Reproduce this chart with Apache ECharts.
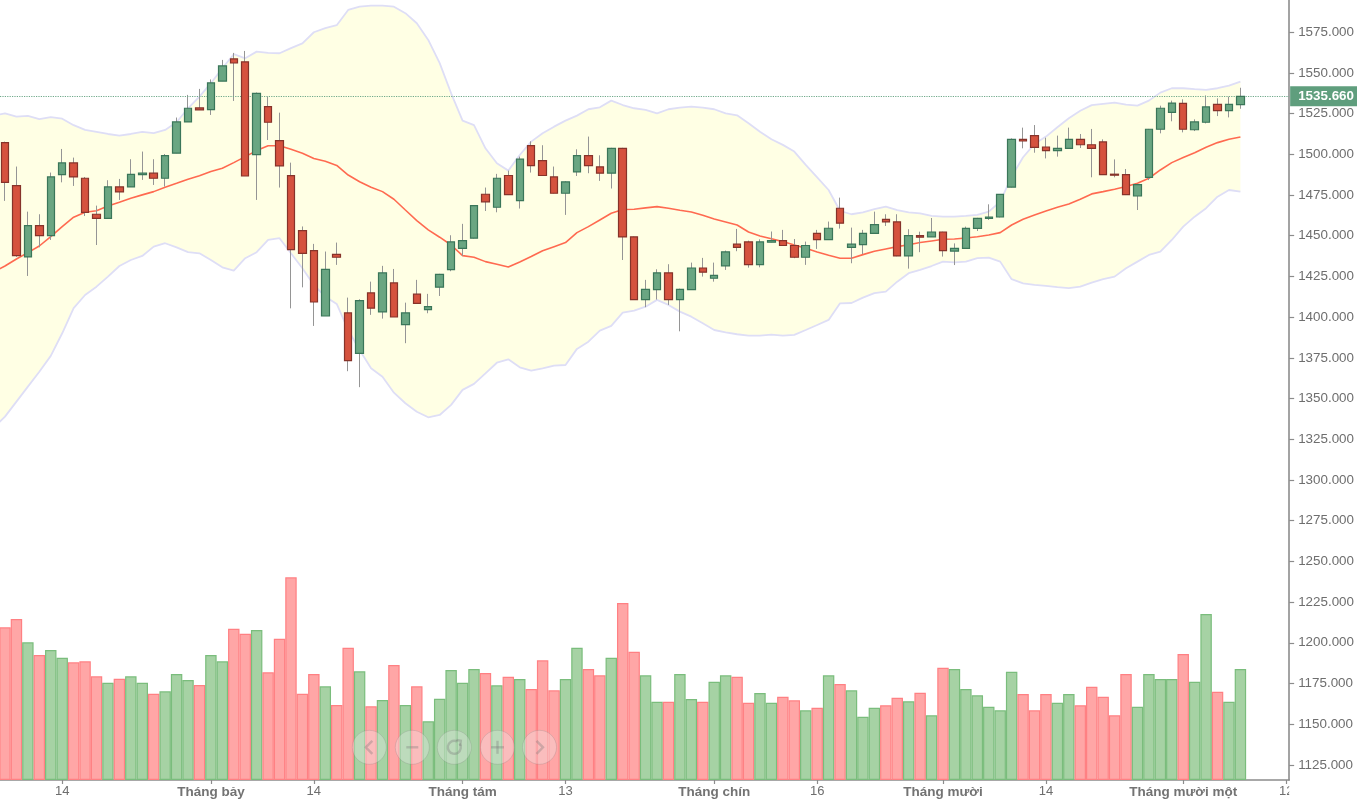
<!DOCTYPE html>
<html>
<head>
<meta charset="utf-8">
<title>Chart</title>
<script src="https://cdn.jsdelivr.net/npm/echarts@6/dist/echarts.min.js"></script>
<style>
html,body{margin:0;padding:0;background:#fff;overflow:hidden}
#chart{width:1357px;height:803px}
</style>
</head>
<body>
<div id="chart"></div>
<script>
// one entry per session, the first session sits just off the left edge
var opens = [1490,
1507.2,1480.8,1437,1456.2,1450.1,1487.5,1494.7,1485.3,1463.2,1460.7,
1480,1480,1487.5,1488.4,1485.3,1500.7,1519.9,1528.5,1527.5,1545,
1558.6,1556.8,1499.8,1529.3,1508.4,1486.9,1453.2,1440.9,1400.7,1438.6,
1402.6,1377.8,1414.9,1403.2,1421,1395.4,1414.1,1404.6,1418.4,1429.2,
1442.3,1448.5,1475.5,1467.5,1487,1471.6,1505.4,1496.2,1486.1,1476.1,
1489.2,1499.2,1492.3,1488.4,1503.7,1449.3,1410.8,1416.9,1427.2,1410.8,
1416.9,1430.2,1423.9,1431.5,1444.8,1446.2,1432.3,1446,1447,1444,
1436.8,1451.5,1447.6,1466.9,1442.9,1444.6,1451.5,1460.1,1458.5,1437.6,
1450.1,1449.3,1452.3,1440.6,1442.3,1454.5,1460.7,1461.5,1479.9,1509.2,
1511.5,1504.5,1502.3,1503.7,1509.2,1505.9,1507.6,1487.8,1487.5,1474.4,
1485.9,1515.4,1525.8,1531.3,1515.1,1519.7,1530.7,1526.8,1530.5];
var closes = [1507,
1482.8,1437.8,1456.2,1450.1,1486.1,1494.7,1486.1,1464.4,1460.7,1480,
1476.9,1487.7,1488.4,1485.3,1499.2,1519.9,1528.3,1527.3,1543.9,1554.3,
1556.1,1486.7,1537.5,1519.7,1492.9,1441.5,1439.2,1409.3,1429.4,1436.8,
1373.3,1410.2,1405.5,1427.2,1400.1,1402.6,1408.5,1406.5,1426.3,1446.2,
1447,1468.5,1470.8,1485.3,1475.3,1497,1493.1,1487,1476.1,1483.1,
1499.2,1493.1,1488.4,1503.7,1449.3,1410.8,1417.1,1427.2,1410.8,1417.1,
1430.2,1427.6,1425.7,1440.1,1442.9,1432.3,1446.2,1447,1444,1436.8,
1444,1447.6,1454.6,1457.7,1444.8,1451.5,1456.8,1458.5,1437.6,1450.1,
1449.1,1452.3,1440.9,1442.3,1454.5,1460.7,1461.5,1475.4,1509.2,1508.2,
1504.3,1502.3,1503.7,1509.2,1505.9,1503.7,1487.5,1487.2,1475.2,1481.4,
1515.4,1528.3,1531.5,1515.4,1519.9,1529.1,1526.8,1530.7,1535.66];
var lows = [1488,
1471.4,1437,1425.3,1442.9,1447.4,1482.8,1480.6,1462.1,1444.3,1460.7,
1472,1480,1484.3,1481.2,1480.2,1500.7,1519.9,1527.3,1524.2,1545,
1532.8,1486.7,1472,1508.8,1479.6,1405.4,1418.3,1394.6,1400.7,1432.1,
1366.8,1357,1401.4,1399.1,1400.1,1384,1408.5,1402.4,1413,1428.2,
1437.6,1448.3,1465.2,1464.4,1475,1466.7,1488.8,1487,1476,1462.8,
1486.7,1488.4,1483.7,1479,1435.1,1410.6,1406.1,1410.8,1407.5,1391.3,
1416.9,1424.9,1421.8,1429,1440.5,1430.4,1430.6,1446,1444,1436.2,
1432.1,1441.9,1447.6,1454.4,1433.1,1438.8,1451.5,1456,1437.4,1429.8,
1439.9,1449.3,1437.2,1432,1442.3,1452.9,1459.7,1461.3,1479.7,1503.7,
1501,1497.5,1498.6,1503.7,1503.9,1485.9,1487.3,1485.9,1475,1465.8,
1484.2,1512.9,1520.3,1513.5,1514.3,1519,1523.5,1522.7,1528];
var highs = [1509,
1507.8,1492.5,1464.8,1463.2,1488.8,1503.3,1498,1486.1,1468.5,1484.1,
1484.9,1497,1501.7,1497,1500.2,1522.6,1536.5,1540.2,1546,1558,
1562.3,1563.5,1538,1535.5,1525.6,1494.9,1455.7,1445,1440.3,1445.8,
1412,1411,1421.8,1431.5,1429.6,1408.9,1422.9,1414.3,1426.6,1450.3,
1457.3,1468.7,1479.6,1488,1490,1498.6,1508,1505.6,1492.5,1483.5,
1503.1,1510.9,1499.4,1504,1504,1449.5,1422.9,1429.4,1432.5,1417.5,
1433.5,1436.4,1433.5,1440.9,1454.2,1447,1447.8,1452.6,1453.6,1448,
1446.4,1453.6,1458.7,1473.4,1455,1453.6,1464.8,1463.2,1463.2,1454,
1452.5,1460.9,1452.5,1445.3,1455.6,1461,1469.3,1475.6,1509.8,1516.4,
1518,1510.2,1511.5,1516.4,1512.5,1515.6,1509.2,1496.9,1491,1481.8,
1515.6,1529.9,1533,1533.8,1521.5,1536.2,1534.4,1535.4,1540.9];
var volumes = [165.3,
152.7,161,137.7,125,130,122.3,117.7,118.7,103.7,97.3,
101.3,103.7,97.3,86.3,88.7,106,100,95,125,118.7,
151.3,146.3,150,107.7,141.3,202.7,86.3,106,93.7,75,
132.3,108.7,73.7,80,115,75,93.7,58.7,81.3,110,
97.3,111,107,94.7,103.3,101,91,119.7,89.7,101,
132.3,111,104.7,122.3,177,128.3,104.7,78.3,78.3,106,
81,78.3,98.3,104.7,103.3,77.3,87,77.3,83.3,79.7,
69.7,72.3,104.7,96,89.7,63.3,72.3,74.7,82.3,78.7,
87.3,64.7,112.3,111,91,84.7,73.3,69.7,108.3,86,
69.7,86,77.3,86,74.7,93.3,83.3,64.7,106,73.3,
106,101,101,126,98.3,166,88.3,78.3,111];
var upperBand = [1523.6,
1525.2,1523.2,1523.6,1521.6,1522.8,1521.9,1517.9,1515,1513.8,1512.5,
1511.5,1512.5,1513.8,1513,1515,1519.7,1528.3,1535.4,1543.7,1552.9,
1561.5,1559,1563.1,1562.3,1562.1,1565.2,1568.2,1575,1577.5,1579.3,
1588.7,1590.7,1591.3,1591.3,1590.7,1586.7,1580.5,1570.3,1556,1537.5,
1520.7,1517.9,1503.7,1494.5,1490,1499.6,1507.8,1513,1517,1520.7,
1523.8,1527.7,1528.9,1533,1530.3,1528.3,1527.3,1525.2,1527.7,1528.7,
1529.3,1528.7,1527.7,1525.2,1524,1519.1,1513.9,1509.3,1505.8,1501.7,
1493.5,1485.9,1478.1,1465.2,1463.2,1464.4,1466.3,1467.9,1465.8,1464.4,
1463.8,1462.2,1461.7,1461.7,1462.2,1462.8,1464.8,1470.9,1486.3,1498.2,
1506.4,1510.9,1516.6,1522.2,1526.8,1530.2,1531,1531.8,1530.5,1529.9,
1533,1537.9,1540.6,1540.6,1540,1539.6,1540.6,1542.2,1544.7];
var lowerBand = [1331.9,
1338.9,1348.1,1357.3,1366.5,1376.2,1390.1,1405.5,1413.6,1418.7,1424.9,
1431.4,1435.1,1437.6,1443.3,1445.4,1442.9,1439.9,1439.2,1435.1,1430.6,
1428.6,1436.2,1439.9,1447.4,1448.5,1439.2,1430,1419.8,1412.6,1408.1,
1392.1,1379.8,1368.6,1363.4,1353.6,1347.1,1341.9,1338.5,1339.9,1346.1,
1355.3,1359,1365.5,1372,1374.1,1369.2,1367.1,1368.6,1370.2,1370.6,
1380.5,1384.9,1391.7,1394.6,1402.8,1404,1406.4,1410.6,1407.5,1403.4,
1400.3,1396.2,1392.1,1390.7,1389.5,1388.6,1388.6,1389.2,1388.6,1389.1,
1392.1,1395.2,1398.3,1408.5,1408.7,1412,1414.7,1415.7,1421.8,1427,
1429,1431.4,1434.1,1433.7,1434.1,1436.2,1436.5,1434.1,1423.3,1420.8,
1419.8,1419.2,1418.4,1417.8,1418.7,1421.2,1423.3,1424.9,1430,1434.1,
1438.2,1440.2,1447.4,1455.6,1461.7,1466.9,1474,1478.1,1477.1];
var midLine = [1427.8,
1431.4,1435.7,1439.6,1443.7,1449.4,1455.6,1461.4,1464.4,1465.4,1468.3,
1470.6,1473,1475.1,1477.1,1479.8,1482.2,1484.7,1486.9,1489.4,1491.5,
1494.9,1498.6,1502.3,1505.3,1505.3,1503.1,1500.7,1497.4,1495.8,1493.2,
1487.3,1483.2,1479.8,1477.1,1472.4,1465.8,1459.3,1453.6,1449.1,1444.3,
1437.8,1436.8,1434.1,1432.5,1430.8,1433.9,1437.2,1440.8,1443.3,1445.8,
1451.9,1455.6,1459.7,1463.8,1466.1,1466.3,1467.1,1467.9,1466.9,1465.7,
1464.6,1462.6,1460.3,1458.5,1456.6,1452.3,1449.9,1448.2,1446.4,1444.3,
1442.3,1440,1438,1436.2,1436.2,1438.4,1440.5,1441.9,1443.3,1444.5,
1445.8,1446.8,1447.8,1448,1448.6,1449.4,1450.5,1451.9,1456.6,1460.1,
1462.8,1465.2,1467.5,1469.5,1472.4,1475.7,1477.1,1478.6,1480.2,1482.2,
1485.3,1490.4,1494.9,1498,1501,1504.4,1507.2,1509.3,1510.7];

var priceTicks = [1125,1150,1175,1200,1225,1250,1275,1300,1325,1350,1375,1400,1425,1450,1475,1500,1525,1550,1575];
var dateTickSessions = [6,19,28,41,50,63,72,83,92,104,113];
var dateTickLabels = ['14','Tháng bảy','14','Tháng tám','13','Tháng chín','16','Tháng mười','14','Tháng mười một','12'];
var lastPrice = 1535.66;

var candleData = [], bodyData = [], volumeData = [], upperData = [], lowerData = [], bandData = [], midData = [];
for (var i = 0; i < opens.length; i++) {
	candleData.push([i, opens[i], closes[i], lows[i], highs[i]]);
	// body layer has no wick, wicks are grey in a layer of their own
	bodyData.push([i, opens[i], closes[i], Math.min(opens[i], closes[i]), Math.max(opens[i], closes[i])]);
	var up = closes[i] >= opens[i];
	volumeData.push({
		value: [i, volumes[i]],
		itemStyle: {
			color: up ? '#a6d2a4' : '#ffa6a6',
			borderColor: up ? '#7abd7c' : '#ff8083'
		}
	});
	upperData.push([i, upperBand[i]]);
	lowerData.push([i, lowerBand[i]]);
	bandData.push([i, upperBand[i], lowerBand[i]]);
	midData.push([i, midLine[i]]);
}

// stacking does not work on two value axes, so the fill is one polygon
function renderBand(params, api) {
	if (params.dataIndex !== 0) return;
	var points = [];
	for (var k = 0; k < upperData.length; k++) points.push(api.coord(upperData[k]));
	for (var m = lowerData.length - 1; m >= 0; m--) points.push(api.coord(lowerData[m]));
	return {type: 'polygon', shape: {points: points}, style: {fill: '#ffffe4'}};
}

// zoom buttons over the volume bars
var buttonX = [369.3, 412.3, 454.3, 497.5, 539.5];
var iconStyle = {stroke: 'rgba(120,120,120,0.34)', lineWidth: 2.4, fill: null};
var icons = [
	[{type: 'polyline', z: 101, shape: {points: [[3, -6.5], [-3.5, 0], [3, 6.5]]}, style: iconStyle}],
	[{type: 'line', z: 101, shape: {x1: -6, y1: 0, x2: 6, y2: 0}, style: iconStyle}],
	[{type: 'arc', z: 101, shape: {cx: 0, cy: 0, r: 6.5, startAngle: -0.6, endAngle: 5.2, clockwise: true}, style: iconStyle},
	 {type: 'polyline', z: 101, shape: {points: [[2, -7.5], [6.5, -6.5], [6, -1.5]]}, style: iconStyle}],
	[{type: 'line', z: 101, shape: {x1: -6.5, y1: 0, x2: 6.5, y2: 0}, style: iconStyle},
	 {type: 'line', z: 101, shape: {x1: 0, y1: -6.5, x2: 0, y2: 6.5}, style: iconStyle}],
	[{type: 'polyline', z: 101, shape: {points: [[-3, -6.5], [3.5, 0], [-3, 6.5]]}, style: iconStyle}]
];
var graphics = [];
for (var b = 0; b < buttonX.length; b++) {
	graphics.push({
		type: 'group',
		x: buttonX[b],
		y: 747.3,
		children: [{
			type: 'circle',
			z: 100,
			shape: {cx: 0, cy: 0, r: 17},
			style: {fill: 'rgba(240,240,240,0.4)', opacity: 0.8, stroke: 'rgba(120,120,120,0.28)', lineWidth: 1}
		}].concat(icons[b])
	});
}
// the last date label is cut off by the plot edge
graphics.push({
	type: 'rect',
	z: 100,
	shape: {x: 1289.2, y: 783, width: 68, height: 20},
	style: {fill: '#fff'}
});

var myChart = echarts.init(document.getElementById('chart'));
var option = {
	animation: false,
	backgroundColor: '#fff',
	graphic: graphics,
	grid: {left: 0, right: 67.7, top: 0, bottom: 23, containLabel: false},
	xAxis: {
		type: 'value',
		min: 0.563,
		max: 113.26,
		splitLine: {show: false},
		axisLine: {onZero: false, lineStyle: {color: '#8c8c8c', width: 1.6}},
		axisTick: {customValues: dateTickSessions, length: 4, lineStyle: {color: '#8c8c8c', width: 1.2}},
		axisLabel: {
			customValues: dateTickSessions,
			margin: 5,
			hideOverlap: false,
			formatter: function (value) {
				var label = dateTickLabels[dateTickSessions.indexOf(value)];
				return label.length > 2 ? '{month|' + label + '}' : '{day|' + label + '}';
			},
			rich: {
				month: {fontFamily: 'Liberation Sans', fontSize: 13.5, fontWeight: 'bold', color: '#737373'},
				day: {fontFamily: 'Liberation Sans', fontSize: 13, color: '#6e6e6e'}
			}
		}
	},
	yAxis: [{
		type: 'value',
		position: 'right',
		min: 1115.7,
		max: 1594.8,
		splitLine: {show: false},
		axisLine: {show: true, onZero: false, lineStyle: {color: '#8c8c8c', width: 1.6}},
		axisTick: {show: true, customValues: priceTicks, length: 5, lineStyle: {color: '#8c8c8c', width: 1.2}},
		axisLabel: {
			customValues: priceTicks,
			margin: 9,
			color: '#6e6e6e',
			fontFamily: 'Liberation Sans',
			fontSize: 13.4,
			formatter: function (value) { return value.toFixed(3); }
		}
	}, {
		// volume overlay, hidden scale
		type: 'value',
		show: false,
		min: 0,
		max: 780,
		splitLine: {show: false}
	}],
	series: [
		{
			name: 'bandFill',
			type: 'custom',
			data: bandData,
			z: 1,
			silent: true,
			encode: {x: 0, y: [1, 2]},
			renderItem: renderBand
		},
		{
			name: 'lower',
			type: 'line',
			data: lowerData,
			z: 2,
			showSymbol: false,
			lineStyle: {color: '#dedef6', width: 1.8}
		},
		{
			name: 'upper',
			type: 'line',
			data: upperData,
			z: 2,
			showSymbol: false,
			lineStyle: {color: '#dedef6', width: 1.8}
		},
		{
			name: 'mid',
			type: 'line',
			data: midData,
			z: 3,
			showSymbol: false,
			lineStyle: {color: '#ff6a50', width: 1.6}
		},
		{
			name: 'volume',
			type: 'bar',
			yAxisIndex: 1,
			data: volumeData,
			z: 2,
			barWidth: 11.44,
			itemStyle: {borderWidth: 1.2}
		},
		{
			name: 'wick',
			type: 'candlestick',
			data: candleData,
			z: 4,
			barWidth: 1,
			itemStyle: {color: '#959595', color0: '#959595', borderColor: '#959595', borderColor0: '#959595', borderWidth: 1}
		},
		{
			name: 'price',
			type: 'candlestick',
			data: bodyData,
			z: 5,
			barWidth: 8,
			itemStyle: {color: '#6aa682', color0: '#d5523e', borderColor: '#3a7659', borderColor0: '#86332a', borderWidth: 1.2},
			markLine: {
				silent: true,
				symbol: 'none',
				animation: false,
				lineStyle: {color: '#6fa98a', type: 'dotted', width: 1.2},
				label: {
					position: 'end',
					distance: 1,
					formatter: lastPrice.toFixed(3),
					color: '#fff',
					fontFamily: 'Liberation Sans',
					fontSize: 13.4,
					fontWeight: 'bold',
					backgroundColor: '#5f9e7d',
					padding: [4, 5, 3, 8]
				},
				data: [{yAxis: lastPrice}]
			}
		}
	]
};
myChart.setOption(option);
</script>
</body>
</html>
